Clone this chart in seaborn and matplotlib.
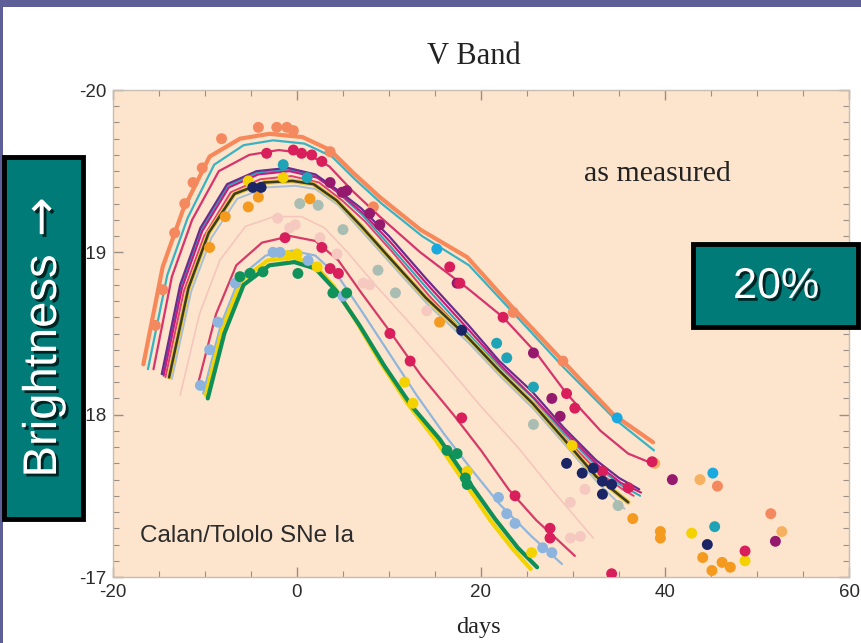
import matplotlib
matplotlib.use("Agg")
import matplotlib.pyplot as plt
import matplotlib.patches as mpatches
import matplotlib.patheffects as pe
from matplotlib.ticker import MultipleLocator, FixedLocator
import seaborn as sns
import pandas as pd

# ---------------- data: light-curve fits (day, absolute V magnitude) ----------------
orange_d = [-16.7, -14.6, -12.4, -9.5, -6.2, -3.0, 0.6, 3.6, 6.1, 9.0, 13.4, 18.5, 23.1, 28.9, 34.4, 38.7]
orange_m = [-18.31, -18.91, -19.26, -19.59, -19.70, -19.73, -19.71, -19.63, -19.49, -19.34, -19.14, -18.97, -18.68, -18.33, -18.00, -17.83]

teal1_d = [-16.2, -14.1, -11.9, -9.0, -5.8, -2.6, 0.8, 3.8, 6.3, 9.2, 13.6, 18.7, 23.3, 29.0, 34.6, 38.8]
teal1_m = [-18.28, -18.86, -19.21, -19.54, -19.66, -19.69, -19.67, -19.59, -19.45, -19.30, -19.10, -18.92, -18.64, -18.29, -17.97, -17.78]

crim1_d = [-15.6, -13.6, -11.4, -8.5, -5.2, -2.0, 1.0, 3.5, 6.0, 9.0, 13.4, 18.5, 22.4, 26.0, 29.3, 33.0, 36.0, 38.6]
crim1_m = [-18.28, -18.85, -19.20, -19.50, -19.60, -19.63, -19.61, -19.53, -19.38, -19.22, -19.00, -18.78, -18.60, -18.38, -18.13, -17.90, -17.76, -17.70]

purple_d = [-14.7, -12.7, -10.5, -7.6, -4.4, -1.0, 2.0, 4.5, 7.0, 10.0, 14.0, 18.5, 22.0, 25.6, 29.0, 32.5, 35.0, 37.2]
purple_m = [-18.25, -18.80, -19.15, -19.42, -19.50, -19.52, -19.48, -19.38, -19.27, -19.10, -18.84, -18.56, -18.33, -18.14, -17.92, -17.72, -17.61, -17.54]

magenta_d = [-14.5, -12.5, -10.3, -7.4, -4.2, -0.8, 2.2, 4.7, 7.2, 10.2, 14.2, 18.7, 22.2, 25.8, 29.2, 32.7, 35.2, 37.4]
magenta_m = [-18.24, -18.78, -19.13, -19.40, -19.48, -19.50, -19.46, -19.36, -19.24, -19.06, -18.80, -18.52, -18.30, -18.10, -17.89, -17.69, -17.58, -17.52]

teal2_d = [-14.6, -12.6, -10.4, -7.5, -4.3, -0.9, 2.1, 4.6, 7.1, 10.1, 14.1, 18.6, 22.1, 25.7, 29.1, 32.6, 35.1, 37.3]
teal2_m = [-18.25, -18.79, -19.14, -19.41, -19.49, -19.51, -19.47, -19.36, -19.23, -19.04, -18.78, -18.50, -18.29, -18.10, -17.88, -17.68, -17.57, -17.50]

pinkred_d = [-14.3, -12.3, -10.1, -7.2, -4.0, -0.6, 2.4, 4.9, 7.4, 10.4, 14.4, 18.9, 22.4, 26.0, 29.4, 32.9, 35.4, 36.6]
pinkred_m = [-18.23, -18.76, -19.10, -19.37, -19.45, -19.47, -19.43, -19.32, -19.19, -19.00, -18.73, -18.46, -18.25, -18.06, -17.84, -17.64, -17.54, -17.50]

black_d = [-13.9, -11.8, -9.6, -6.8, -3.6, -0.5, 1.8, 4.3, 7.0, 10.0, 14.0, 18.5, 22.0, 25.6, 29.0, 32.5, 36.0]
black_m = [-18.23, -18.78, -19.12, -19.36, -19.43, -19.44, -19.42, -19.32, -19.16, -18.97, -18.72, -18.48, -18.27, -18.07, -17.85, -17.62, -17.46]

grayblue_d = [-13.6, -11.5, -9.3, -6.5, -3.3, -0.2, 2.0, 4.5, 7.2, 10.2, 14.2, 18.7, 22.2, 25.8, 29.2, 32.7, 35.6]
grayblue_m = [-18.22, -18.76, -19.09, -19.33, -19.40, -19.41, -19.39, -19.29, -19.12, -18.93, -18.68, -18.44, -18.23, -18.03, -17.81, -17.58, -17.42]

fpink_d = [-12.7, -10.6, -8.4, -5.6, -2.5, 0.5, 3.0, 5.5, 8.5, 12.0, 16.0, 20.0, 24.0, 28.0, 32.2]
fpink_m = [-18.12, -18.62, -18.95, -19.16, -19.22, -19.22, -19.15, -19.00, -18.80, -18.58, -18.32, -18.05, -17.80, -17.52, -17.24]

crim2_d = [-10.8, -8.8, -6.6, -3.8, -0.7, 2.0, 4.5, 7.0, 10.0, 13.5, 17.0, 20.0, 23.0, 26.0, 28.5, 30.2]
crim2_m = [-18.18, -18.62, -18.92, -19.06, -19.10, -19.07, -18.95, -18.75, -18.52, -18.24, -18.00, -17.78, -17.54, -17.35, -17.22, -17.13]

lblue_d = [-10.2, -8.3, -6.2, -3.4, -0.5, 2.0, 4.5, 7.0, 10.0, 13.0, 16.0, 19.0, 22.0, 25.5, 28.8]
lblue_m = [-18.13, -18.55, -18.85, -18.98, -19.01, -18.98, -18.85, -18.64, -18.38, -18.12, -17.88, -17.66, -17.45, -17.25, -17.08]

yellow_d = [-9.9, -8.1, -6.0, -3.2, -0.5, 1.8, 4.0, 6.4, 9.0, 12.0, 15.0, 18.0, 21.0, 23.5, 25.4]
yellow_m = [-18.12, -18.53, -18.83, -18.95, -18.97, -18.93, -18.79, -18.58, -18.33, -18.07, -17.85, -17.60, -17.35, -17.17, -17.05]

green_d = [-9.7, -7.9, -5.8, -3.0, -0.3, 2.0, 4.3, 6.8, 9.5, 12.5, 15.5, 18.5, 21.5, 24.0, 26.1]
green_m = [-18.10, -18.50, -18.80, -18.92, -18.94, -18.90, -18.76, -18.55, -18.30, -18.05, -17.85, -17.60, -17.36, -17.18, -17.06]

# ---------------- data: measured points ----------------
salmon_pd = [-15.4, -14.6, -13.3, -12.2, -11.3, -10.3, -8.2, -4.2, -2.2, -1.1, -0.4, 3.6, 8.3, 23.5, 28.9, 45.7, 51.5]
salmon_pm = [-18.55, -18.77, -19.12, -19.30, -19.43, -19.52, -19.70, -19.77, -19.77, -19.77, -19.75, -19.62, -19.28, -18.63, -18.33, -17.56, -17.39]

crim_pd = [-3.3, -0.4, 0.5, 1.6, 2.7, 16.6, 17.7, 22.4, 29.3, 30.2, 38.6, -1.3, 2.7, 3.6, 4.5, 10.1, 12.3, 17.9, 23.7, 27.5, 27.5, 34.2, 33.2, 36.0, 48.7]
crim_pm = [-19.61, -19.63, -19.61, -19.60, -19.56, -18.91, -18.81, -18.60, -18.13, -18.04, -17.71, -19.09, -19.03, -18.90, -18.87, -18.50, -18.33, -17.98, -17.50, -17.30, -17.24, -17.02, -17.65, -17.55, -17.16]

purple_pd = [3.6, 4.9, 5.4, 7.9, 9.0, 17.4, 25.7, 27.7, 28.6, 40.8, 52.0]
purple_pm = [-19.43, -19.37, -19.38, -19.24, -19.17, -18.81, -18.38, -18.10, -17.99, -17.60, -17.22]

teal_pd = [-1.5, 1.1, 21.7, 22.8, 25.7, 45.4]
teal_pm = [-19.54, -19.46, -18.44, -18.35, -18.17, -17.31]

cyan_pd = [15.2, 34.8, 45.2]
cyan_pm = [-19.02, -17.98, -17.64]

navy_pd = [-4.8, -3.9, 17.9, 29.3, 31.0, 32.2, 33.2, 34.2, 33.2, 44.6]
navy_pm = [-19.40, -19.40, -18.52, -17.70, -17.64, -17.67, -17.59, -17.57, -17.51, -17.20]

fpink_pd = [-2.1, -0.2, -0.8, 2.5, 4.35, 7.2, 7.9, 14.1, 29.7, 31.3, 29.7, 30.8]
fpink_pm = [-19.21, -19.17, -19.15, -19.09, -18.99, -18.81, -18.80, -18.64, -17.46, -17.54, -17.24, -17.25]

gray_pd = [0.3, 2.3, 5.0, 8.8, 10.7, 25.7, 34.9]
gray_pm = [-19.30, -19.29, -19.14, -18.89, -18.75, -17.94, -17.44]

orange_pd = [-9.5, -7.8, -5.3, -4.2, 1.4, 15.5, 36.5, 39.5, 39.5, 44.1, 45.1, 46.2, 47.1]
orange_pm = [-19.03, -19.22, -19.28, -19.34, -19.33, -18.57, -17.36, -17.28, -17.24, -17.12, -17.04, -17.09, -17.06]

lorange_pd = [38.9, 43.8, 52.7]
lorange_pm = [-17.70, -17.60, -17.28]

yellow_pd = [-5.3, -1.5, -1.0, 0.0, 2.2, 11.7, 12.6, 18.5, 29.9, 25.5, 42.9, 48.7]
yellow_pm = [-19.44, -19.46, -18.98, -18.99, -18.91, -18.20, -18.07, -17.65, -17.81, -17.15, -17.27, -17.10]

green_pd = [-6.2, -5.1, -3.7, 0.1, 5.4, 3.9, 16.3, 17.4, 18.3, 18.5]
green_pm = [-18.85, -18.87, -18.88, -18.87, -18.75, -18.75, -17.78, -17.76, -17.61, -17.57]

lblue_pd = [-6.7, -8.6, -9.5, -10.5, -2.6, -1.85, 1.2, 5.0, 21.9, 22.8, 23.7, 26.7, 27.7]
lblue_pm = [-18.81, -18.57, -18.40, -18.18, -19.00, -19.00, -18.95, -18.73, -17.49, -17.39, -17.33, -17.18, -17.15]

x_ticks = [-20, 0, 20, 40, 60]
y_ticks = [-20, -19, -18, -17]
y_ticklabels = ["-20", "-19", "-18", "-17"]

# ---------------- figure ----------------
sns.set_style("ticks")
plt.rcParams["font.family"] = ["Liberation Sans", "DejaVu Sans"]
plt.rcParams["axes.unicode_minus"] = False

W, H = 862, 643
fig = plt.figure(figsize=(W / 100, H / 100), dpi=100)
fig.patch.set_facecolor("white")

def fx(px):
    return px / W

def fy(py):
    return 1 - py / H

ax = fig.add_axes([fx(113), fy(577), (849 - 113) / W, (577 - 90) / H])
ax.set_facecolor("#fde4cd")

# curves: (days, mags, color, lw, zorder)
curves = [
    (fpink_d, fpink_m, "#f5c4bc", 1.1, 2),
    (grayblue_d, grayblue_m, "#a7bfd0", 1.4, 3),
    (crim2_d, crim2_m, "#d63a67", 1.6, 3),
    (lblue_d, lblue_m, "#8fb6dc", 1.6, 3),
    (yellow_d, yellow_m, "#f2d300", 3.0, 3),
    (green_d, green_m, "#0f8f57", 3.0, 4),
    (pinkred_d, pinkred_m, "#e0406f", 1.4, 3),
    (teal2_d, teal2_m, "#2aa8ba", 1.4, 3),
    (magenta_d, magenta_m, "#c9197c", 1.5, 3),
    (purple_d, purple_m, "#6c2c8e", 1.6, 3),
    (black_d, black_m, "#e8c83a", 3.4, 3),
    (black_d, black_m, "#3b3a24", 1.8, 4),
    (crim1_d, crim1_m, "#d6346c", 1.6, 3),
    (teal1_d, teal1_m, "#39b3c2", 1.6, 3),
    (orange_d, orange_m, "#f7885a", 3.0, 4),
]
for d, m, c, lw, z in curves:
    df = pd.DataFrame({"day": d, "mag": m})
    sns.lineplot(data=df, x="day", y="mag", ax=ax, color=c, linewidth=lw,
                 sort=False, estimator=None, zorder=z, solid_capstyle="round")

points = [
    (fpink_pd, fpink_pm, "#f6c9c0"),
    (gray_pd, gray_pm, "#a9bdb2"),
    (salmon_pd, salmon_pm, "#f4895f"),
    (orange_pd, orange_pm, "#f39a1f"),
    (lorange_pd, lorange_pm, "#f5b160"),
    (yellow_pd, yellow_pm, "#f4d200"),
    (lblue_pd, lblue_pm, "#8cb4df"),
    (green_pd, green_pm, "#11925a"),
    (teal_pd, teal_pm, "#1fa3b6"),
    (cyan_pd, cyan_pm, "#1aa9df"),
    (purple_pd, purple_pm, "#951a6e"),
    (crim_pd, crim_pm, "#d81e5b"),
    (navy_pd, navy_pm, "#1b2566"),
]
for d, m, c in points:
    df = pd.DataFrame({"day": d, "mag": m})
    sns.scatterplot(data=df, x="day", y="mag", ax=ax, color=c, s=62,
                    edgecolor="none", linewidth=0, zorder=5)

ax.set_xlim(-20, 60)
ax.set_ylim(-17, -20)
ax.xaxis.set_major_locator(FixedLocator(x_ticks))
ax.xaxis.set_minor_locator(MultipleLocator(5))
ax.yaxis.set_major_locator(FixedLocator(y_ticks))
ax.set_yticklabels(y_ticklabels)
ax.yaxis.set_minor_locator(MultipleLocator(0.1))
ax.tick_params(which="both", direction="in", top=True, right=True,
               color="#9a8f86", labelsize=13.5, labelcolor="#2b2b2b")
ax.tick_params(which="major", length=7, width=1, pad=5)
ax.tick_params(which="minor", length=4, width=0.8)
for s in ax.spines.values():
    s.set_color("#c8bdb2")
    s.set_linewidth(1.0)
ax.set_xlabel("")
ax.set_ylabel("")

ax.text(-17.1, -17.25, "Calan/Tololo SNe Ia", fontsize=17.5, color="#2b2b2b",
        ha="left", va="center", family=["Liberation Sans"])
fig.text(fx(657), fy(174), "as measured", fontsize=21.5, color="#222222",
         ha="center", va="center", family=["Liberation Serif"])

fig.text(fx(474), fy(56), "V Band", fontsize=22, color="#222222",
         ha="center", va="center", family=["Liberation Serif"])
fig.text(fx(478), fy(628), "days", fontsize=17.5, color="#222222",
         ha="center", va="center", family=["Liberation Serif"])

# slide frame
fig.add_artist(mpatches.Rectangle((0, fy(7)), 1, 7 / H, transform=fig.transFigure,
                                  facecolor="#5f5f98", edgecolor="none", zorder=10))
fig.add_artist(mpatches.Rectangle((0, 0), 3 / W, 1, transform=fig.transFigure,
                                  facecolor="#5f5f98", edgecolor="none", zorder=10))

shadow = [pe.SimplePatchShadow(offset=(2, -2), shadow_rgbFace="black", alpha=0.7), pe.Normal()]

# Brightness box
fig.add_artist(mpatches.Rectangle((fx(4), fy(519)), 79 / W, 362 / H, transform=fig.transFigure,
                                  facecolor="#007b78", edgecolor="black", linewidth=3.5, zorder=11))
t1 = fig.text(fx(44), fy(366), "Brightness", rotation=90, fontsize=34, color="white",
              ha="center", va="center", zorder=12, family=["Liberation Sans"])
t1.set_path_effects(shadow)
t1b = fig.text(fx(44), fy(217), "\u2192", rotation=90, fontsize=34, color="white",
               ha="center", va="center", zorder=12, family=["DejaVu Sans"])
t1b.set_path_effects(shadow)

# 20% box
fig.add_artist(mpatches.Rectangle((fx(693), fy(327)), 165 / W, 83 / H, transform=fig.transFigure,
                                  facecolor="#007b78", edgecolor="black", linewidth=3.5, zorder=11))
t2 = fig.text(fx(776), fy(287), "20%", fontsize=31, color="white",
              ha="center", va="center", zorder=12, family=["Liberation Sans"])
t2.set_path_effects(shadow)

fig.savefig("out.png", dpi=100, facecolor="white")
